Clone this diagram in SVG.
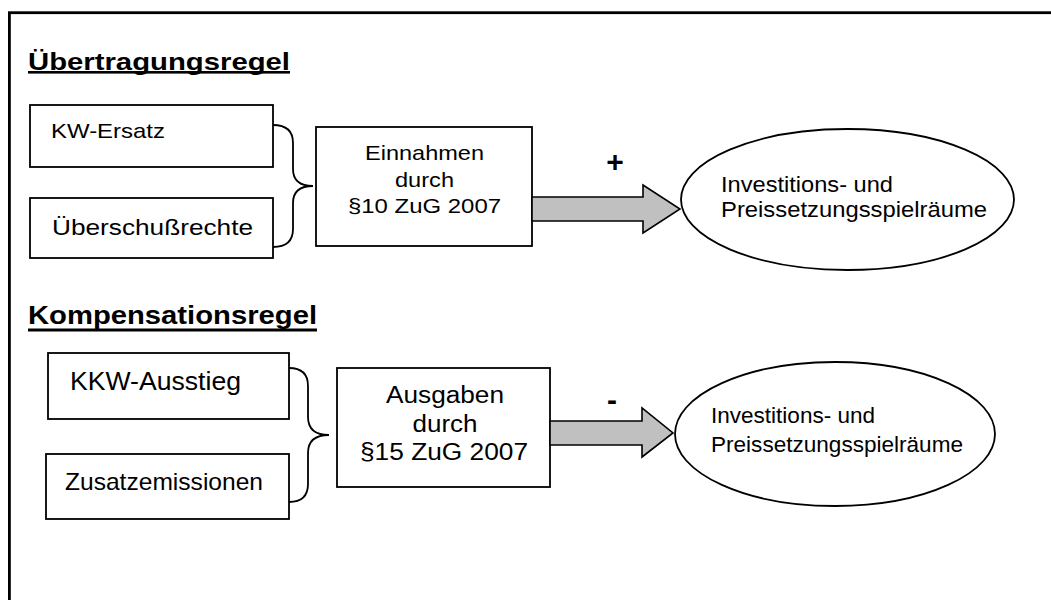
<svg xmlns="http://www.w3.org/2000/svg" width="1051" height="600" viewBox="0 0 1051 600">
<style>
.t{font-family:"Liberation Sans",Arial,sans-serif;fill:#000}
.h{font-family:"Liberation Sans",Arial,sans-serif;font-weight:bold;fill:#000}
.box{fill:#fff;stroke:#000;stroke-width:1.8}
.arr{fill:#c0c0c0;stroke:#000;stroke-width:1.6;stroke-linejoin:miter}
.br{fill:none;stroke:#000;stroke-width:1.8}
</style>
<rect x="0" y="0" width="1051" height="600" fill="#fff"/>
<rect id="frame" x="9.4" y="12.7" width="1060" height="620" fill="none" stroke="#000" stroke-width="2.8"/>

<g id="heading1">
<text class="h" x="28" y="69.5" font-size="24" textLength="262" lengthAdjust="spacingAndGlyphs">Übertragungsregel</text>
<rect x="28" y="71" width="262" height="2.6" fill="#000"/>
</g>
<g id="heading2">
<text class="h" x="28" y="323.5" font-size="25" textLength="289" lengthAdjust="spacingAndGlyphs">Kompensationsregel</text>
<rect x="28" y="328.5" width="289" height="3" fill="#000"/>
</g>

<g id="kw-ersatz">
<rect class="box" x="30" y="105" width="243" height="62"/>
<text class="t" x="51" y="138" font-size="21" textLength="114" lengthAdjust="spacingAndGlyphs">KW-Ersatz</text>
</g>
<g id="ueberschussrechte">
<rect class="box" x="30" y="198" width="243" height="60"/>
<text class="t" x="52" y="235" font-size="22" textLength="201" lengthAdjust="spacingAndGlyphs">Überschußrechte</text>
</g>
<g id="einnahmen">
<rect class="box" x="316" y="127" width="216" height="119"/>
<text class="t" x="424.5" y="160" font-size="21" text-anchor="middle" textLength="119" lengthAdjust="spacingAndGlyphs">Einnahmen</text>
<text class="t" x="424.5" y="187" font-size="21" text-anchor="middle" textLength="59" lengthAdjust="spacingAndGlyphs">durch</text>
<text class="t" x="424.5" y="213" font-size="21" text-anchor="middle" textLength="153" lengthAdjust="spacingAndGlyphs">§10 ZuG 2007</text>
</g>
<g id="spielraeume1">
<ellipse cx="847.5" cy="199.5" rx="166.5" ry="70.5" fill="#fff" stroke="#000" stroke-width="1.8"/>
<text class="t" x="721" y="192" font-size="22" textLength="172" lengthAdjust="spacingAndGlyphs">Investitions- und</text>
<text class="t" x="721" y="217" font-size="22" textLength="266" lengthAdjust="spacingAndGlyphs">Preissetzungsspielräume</text>
</g>

<g id="kkw-ausstieg">
<rect class="box" x="48" y="353" width="241" height="66"/>
<text class="t" x="70" y="390" font-size="26" textLength="171" lengthAdjust="spacingAndGlyphs">KKW-Ausstieg</text>
</g>
<g id="zusatzemissionen">
<rect class="box" x="46" y="454" width="243" height="65"/>
<text class="t" x="65" y="490" font-size="24" textLength="198" lengthAdjust="spacingAndGlyphs">Zusatzemissionen</text>
</g>
<g id="ausgaben">
<rect class="box" x="337" y="368" width="213" height="119"/>
<text class="t" x="445" y="403" font-size="23.5" text-anchor="middle" textLength="118" lengthAdjust="spacingAndGlyphs">Ausgaben</text>
<text class="t" x="445" y="432" font-size="23.5" text-anchor="middle" textLength="65" lengthAdjust="spacingAndGlyphs">durch</text>
<text class="t" x="444" y="460" font-size="23.5" text-anchor="middle" textLength="168" lengthAdjust="spacingAndGlyphs">§15 ZuG 2007</text>
</g>
<g id="spielraeume2">
<ellipse cx="835" cy="434" rx="160" ry="72" fill="#fff" stroke="#000" stroke-width="1.8"/>
<text class="t" x="711" y="423" font-size="22" textLength="164" lengthAdjust="spacingAndGlyphs">Investitions- und</text>
<text class="t" x="711" y="452" font-size="22" textLength="252" lengthAdjust="spacingAndGlyphs">Preissetzungsspielräume</text>
</g>

<g id="connectors">
<path class="br" d="M273,125 Q293,125 293,143 L293,169 Q293,186 313,186 Q293,186 293,203 L293,229 Q293,247 273,247"/>
<path class="br" d="M289,368 Q308,368 308,386 L308,417 Q308,435 329,435 Q308,435 308,453 L308,484 Q308,502 289,502"/>
<path class="arr" d="M532,197 L643,197 L643,185 L680,209 L643,233 L643,221 L532,221 Z"/>
<path class="arr" d="M550,421 L642,421 L642,408 L673,433 L642,457 L642,445 L550,445 Z"/>
<text class="h" x="615" y="171.5" font-size="30" text-anchor="middle">+</text>
<text class="h" x="612" y="410" font-size="30" text-anchor="middle">-</text>
</g>
</svg>
